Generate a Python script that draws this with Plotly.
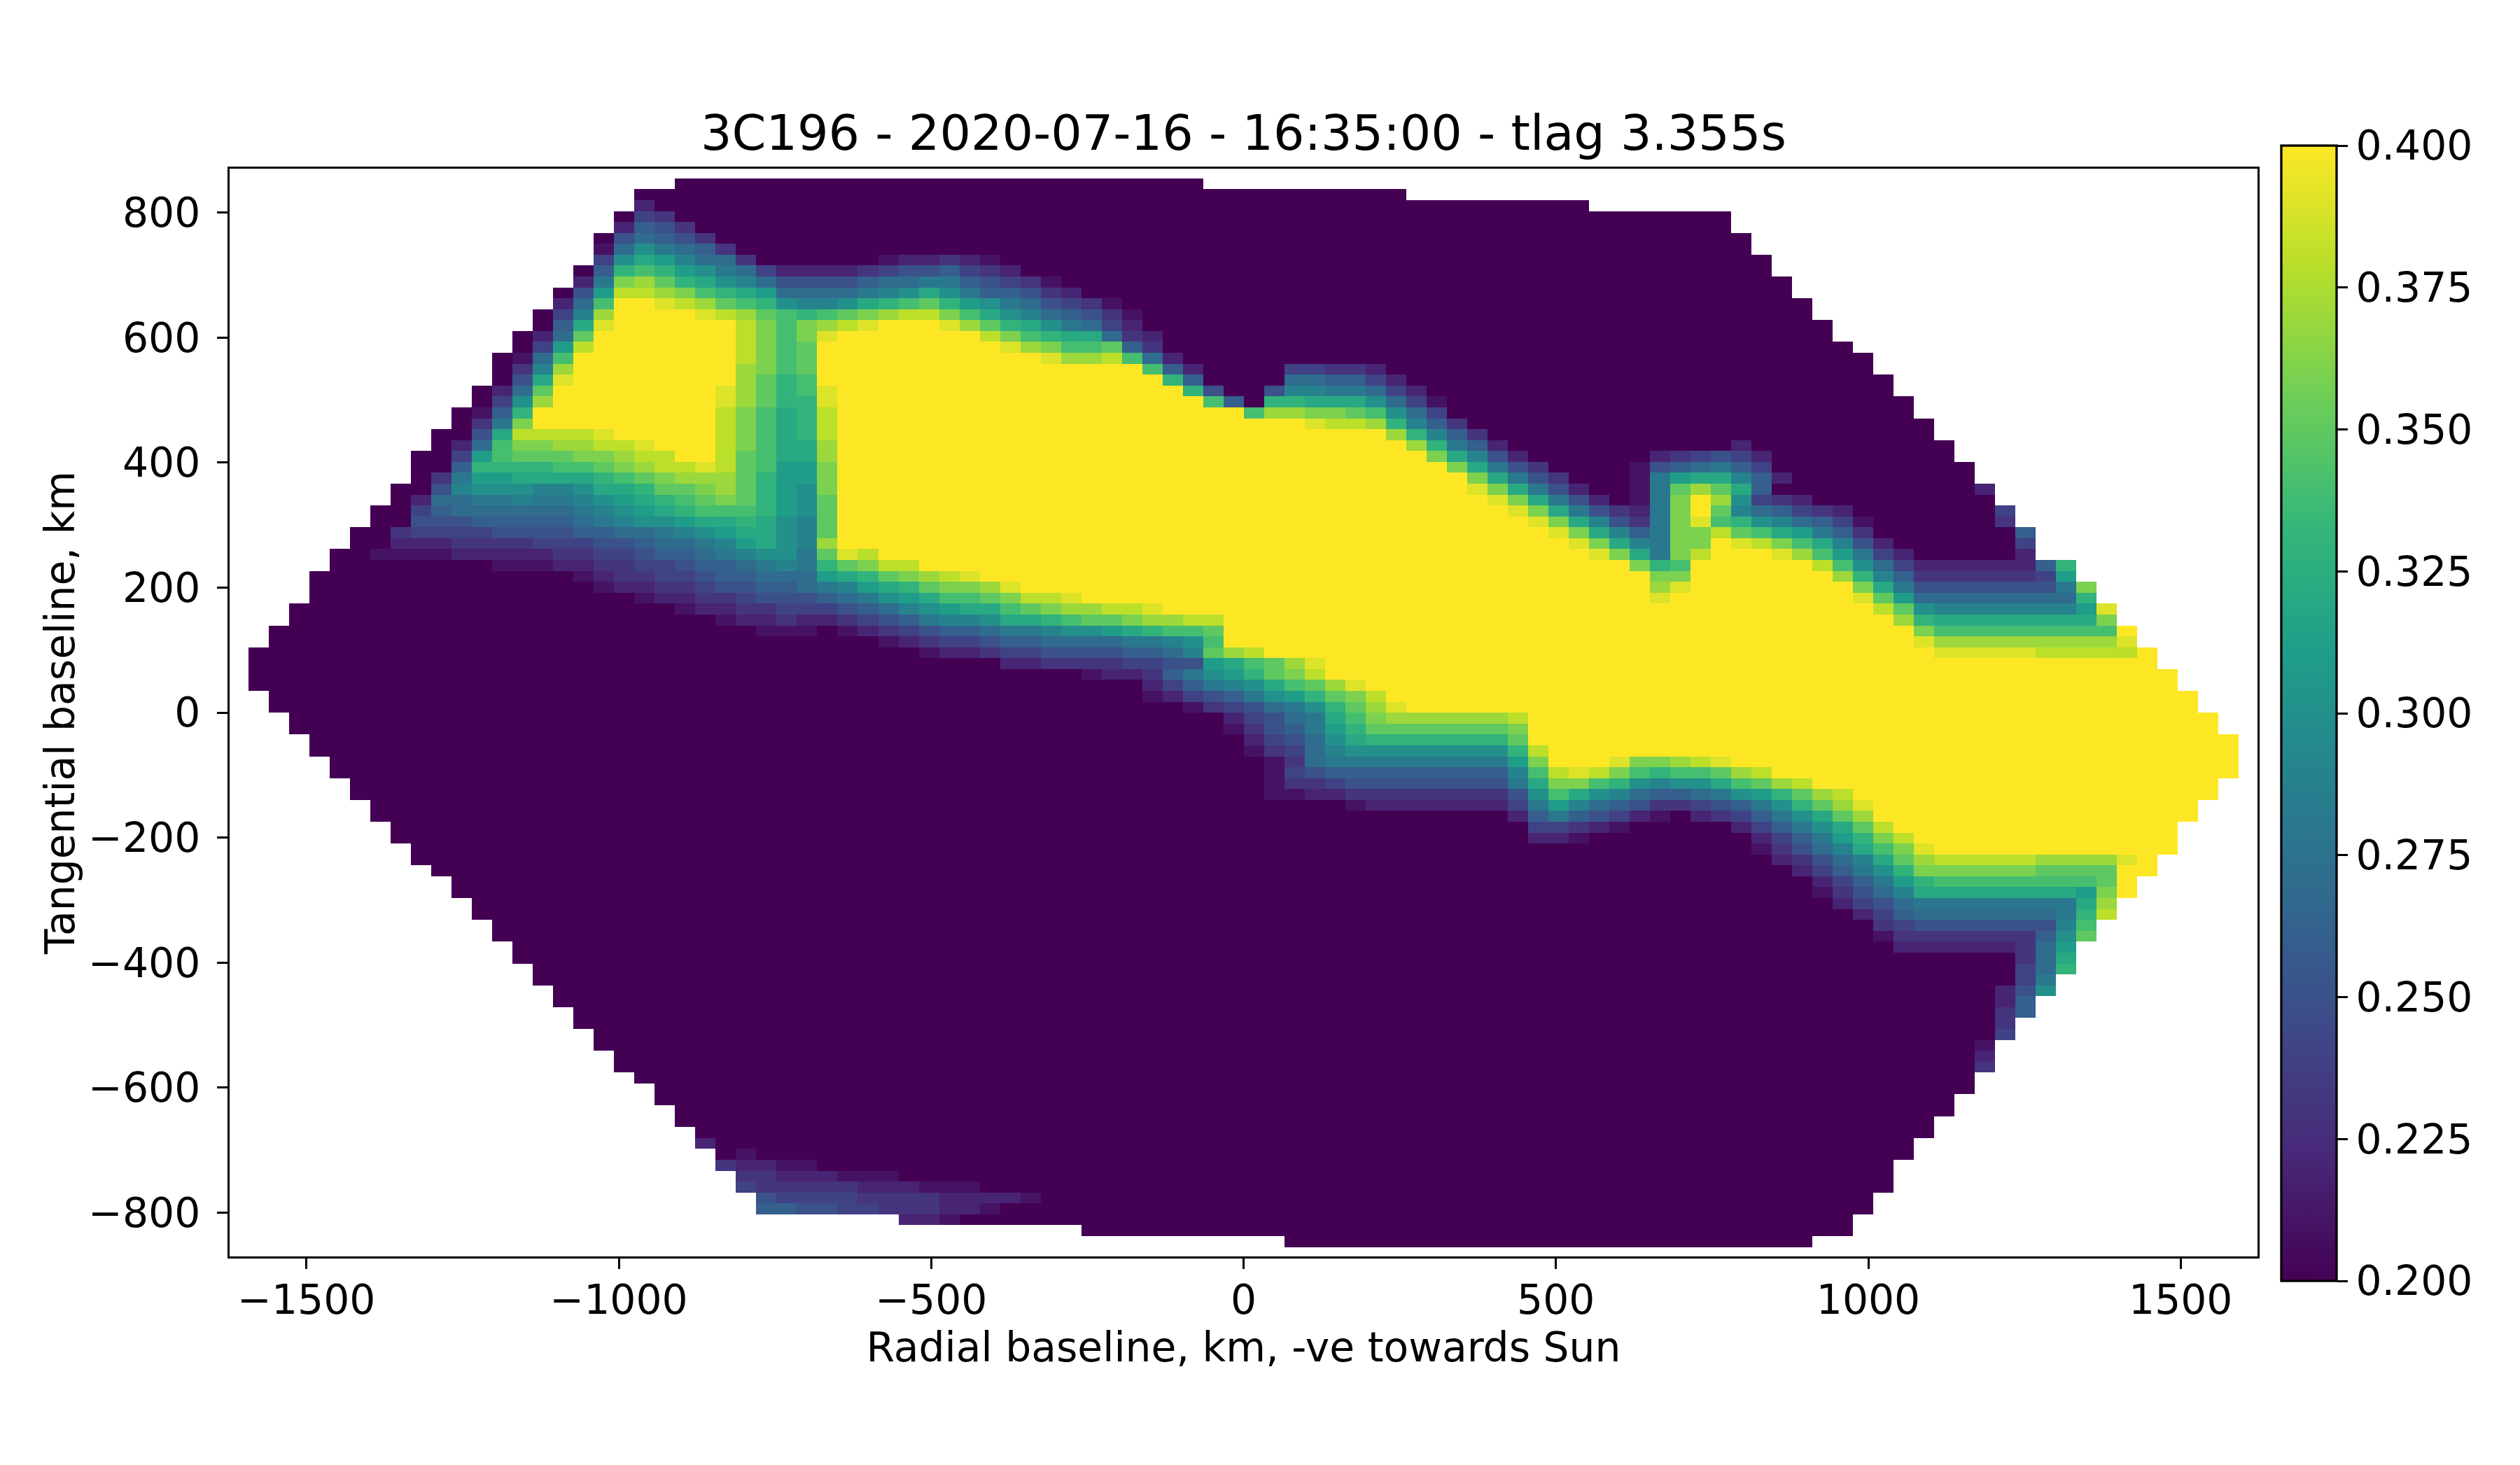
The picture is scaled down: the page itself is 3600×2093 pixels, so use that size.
import numpy as np
import plotly.graph_objects as go

TITLE = "3C196 - 2020-07-16 - 16:35:00 - tlag 3.355s"
X_LABEL = "Radial baseline, km, -ve towards Sun"
Y_LABEL = "Tangential baseline, km"
X_TICKS = [-1500, -1000, -500, 0, 500, 1000, 1500]
Y_TICKS = [-800, -600, -400, -200, 0, 200, 400, 600, 800]
CB_TICKS = [0.2, 0.225, 0.25, 0.275, 0.3, 0.325, 0.35, 0.375, 0.4]

N = 100
X_EDGE = 1625.0
Y_EDGE = 872.0
X_VIEW = 1623.3
Y_VIEW = 870.3

# first and last filled column of data rows 1..98 (row 1 is the top)
HULL_FIRST = [22, 20, 20, 19, 19, 18, 18, 18, 17, 17, 16, 16, 15, 15, 14, 14, 13, 13, 13, 12,
              12, 11, 11, 10, 10, 9, 9, 9, 8, 8, 7, 7, 6, 6, 5, 5, 4, 4, 4, 3,
              3, 2, 2, 1, 1, 1, 1, 2, 2, 3, 3, 4, 4, 5, 5, 6, 6, 7, 7, 8,
              8, 9, 9, 10, 11, 11, 12, 12, 13, 13, 14, 14, 15, 15, 16, 16, 17, 17, 18, 18,
              19, 19, 20, 21, 21, 22, 22, 23, 23, 24, 24, 25, 25, 26, 26, 33, 42, 52]
HULL_LAST = [47, 57, 66, 73, 73, 74, 74, 75, 75, 76, 76, 77, 77, 78, 78, 79, 80, 80, 81, 81,
             82, 82, 83, 83, 84, 84, 85, 85, 86, 86, 87, 87, 88, 88, 88, 90, 90, 91, 91, 92,
             92, 93, 93, 94, 94, 95, 95, 96, 96, 97, 97, 98, 98, 98, 98, 97, 97, 96, 96, 95,
             95, 95, 94, 94, 93, 93, 92, 92, 91, 91, 90, 90, 90, 89, 89, 88, 88, 87, 87, 86,
             86, 86, 85, 85, 84, 84, 83, 83, 82, 82, 81, 81, 81, 80, 80, 79, 79, 77]

# level letters: a = 0.20, b = 0.21 ... u = 0.40
LEVELS = "abcdefghijklmnopqrstu"

# read row by row; "col:cells" - the last cell's level carries on to the next group or row end
ROW_CELLS = [
    "", "", "20:ca", "19:aeda", "19:cgfda", "18:afhgfda", "18:bhkihgda",
    "18:ekmljhhda 32:bccdcba",
    "17:agnonlkiheccccdeffgedca",
    "17:ciqrpnmkjhffffghhiigfedba",
    "16:aflssrqonmlhhhhijkmkiggfdca",
    "16:chouutsrponkjjkmnopnlkihfedba",
    "15:aejruuuutsrponopqrssqomkjhgfdba",
    "15:agmtuuuuuusqoqrstuuutrpnmkiheca",
    "14:achp 18:u 25:sqoqtu 37:sqonmmhdca",
    "14:aels 18:u 25:sqopu 38:trqoopgda",
    "13:abhou 25:sqopu 40:trrsohca",
    "13:adjru 25:rqopu 45:ogca 52:eeddca",
    "13:afmtu 25:rpnou 46:nga 52:hhggeca",
    "12:achpu 24:trpnotu 47:nfa 51:fjjiiheca",
    "12:aekru 24:trpnntu 48:oga 51:nnmmmkheba",
    "11:abgnu 24:sqomnsu 50:orrqqpokhea",
    "11:adiqu 24:sqomnsu 53:tssrnjgda",
    "10:aafmsssstu 24:sqomnsu 57:rnjgda",
    "10:achoqqrrsstu 24:sqommru 58:rnigca 74:ca",
    "9:aaelopppqqrssu 24:spommru 59:qmjfca 70:cdefeca",
    "9:aagnnnnoopqrsst 24:spollqu 60:qmifda 69:bfghigea",
    "9:adillmmmmnopqrrrpnllqu 60:uqmifda 69:bilmmjgca",
    "8:aafjkkkjjkmmnppqrpnlkqu 61:tqmifca 69:biprpmga 86:c",
    "8:achhiijiijklmnopqpnlkpu 62:tqmifca 69:biqurkedca",
    "7:aaeghhhhhhijklmnooonlkpu 63:tqmifdciqupjhgedca 87:e",
    "7:aafffggggghijkklmmnmkjpu 64:tqmjfdiqtonkjhgeba 87:d",
    "6:aadeeeeffffgghhijklmmkjpu 65:tqmjgiqqspomligda 88:g",
    "6:aacccddddeeeffghhijlmkjru 66:tqmjiqqutsqomjfca 88:e",
    "5:aabbbbcccccddeefgghijkkiptsu 67:tqmiqsu 76:trolieca 88:c",
    "13:bbbccddeefgghijinpqssu 69:qnou 78:sokhec 89:gn",
    "17:bcddeefgghhhlmnpqrstu 70:qqu 79:rnjgd 89:el",
    "18:bccddeffgghijlmnpqqrtu 70:rtu 80:qmif 90:iq",
    "20:bccddefffghiklmoopqsstu 70:tu 80:tplh 91:n",
    "22:bccddeeefghjklmmopqrrsstu 81:spkj 91:lt",
    "23:abccdccdefgijjkmmnoppqrrssu 82:rnm 92:q",
    "26:bbbabcdefgghiijkklmnoopu 83:qo 93:u",
    "32:bcdeefgghhhhiijkou 83:tr 93:tu",
    "34:bccdeeffffgghjprsu 84:t 89:s 94:u",
    "38:ccddddeefflmoprtu",
    "42:bccdgiklnpqsu",
    "45:cegijkmoprtu",
    "45:bcefgiklnpqsu",
    "47:bdefhiknprtu",
    "49:cefhimoqrrrrrrsu",
    "49:bdfgilnpppppppqu",
    "50:cefhkmnnnnnnnpu",
    "50:bdehjkkkkkkkknsu",
    "51:bdhiiiiiiiiilqu 68:tqqrstu",
    "51:befg 63:jostsqonooprsu",
    "51:bddef 63:imqqonkjkkmoprsu",
    "51:bbccd 63:fkomkjhgghiklnprsu",
    "55:bc 63:eiljhgfddefgiknprtu",
    "63:cgigfecbacdegikmpru",
    "64:eedcba 74:cegikmpsu",
    "64:ccba 75:cegilnqsu",
    "75:bdfhjmoqtu",
    "76:cdfhjmprs 89:r 93:tu",
    "77:cegiknq 89:p 93:u",
    "78:cegilno 92:pu",
    "78:bdfhjm 91:lqu",
    "79:cefhi 91:mr",
    "80:cegh 90:ins",
    "81:def 90:jo",
    "81:bdd 89:gkp",
    "82:c 88:dhl",
    "88:dhm", "88:ehn", "88:ei", "87:cfk", "87:cg", "87:dg", "87:d", "87:e",
    "86:b", "86:c", "86:d",
    "", "", "", "", "", "",
    "23:ca", "25:ba", "24:dccbba", "25:ddcccbbba", "25:edddddcccbbba",
    "26:feeeeddddccccba", "26:ggffeedddccba", "33:ccba", "", "",
]

FONT = "DejaVu Sans"
TICK_SIZE = 58.33
TITLE_SIZE = 70
LINE = 3.33
TICK_LEN = 14.6
W, H = 3600, 2093
AX_L, AX_R, AX_T, AX_B = 327.7, 3225.3, 240.7, 1795.3
CB_L, CB_R, CB_T, CB_B = 3259, 3338, 208, 1830


def build_grid():
    grid = np.full((N, N), np.nan)
    for k, spec in enumerate(ROW_CELLS):
        row = k + 1
        first, last = HULL_FIRST[k], HULL_LAST[k]
        vals = np.zeros(N)
        for group in spec.split():
            col, cells = group.split(":")
            col = int(col)
            for offset, ch in enumerate(cells):
                vals[col + offset] = LEVELS.index(ch)
            vals[col + len(cells):] = LEVELS.index(cells[-1])
        grid[row, first:last + 1] = 0.2 + vals[first:last + 1] * 0.01
    return grid


z = build_grid()
xc = -X_EDGE + (np.arange(N) + 0.5) * (2 * X_EDGE / N)
yc = Y_EDGE - (np.arange(N) + 0.5) * (2 * Y_EDGE / N)

fig = go.Figure(go.Heatmap(
    x=xc.tolist(), y=yc.tolist(),
    z=[[None if np.isnan(v) else round(float(v), 3) for v in r] for r in z],
    colorscale="Viridis", zmin=0.2, zmax=0.4, hoverongaps=False,
    colorbar=dict(
        x=CB_L / W, xanchor="left", xref="container",
        y=(H - CB_T) / H, yanchor="top", yref="container",
        thickness=CB_R - CB_L, thicknessmode="pixels",
        len=CB_B - CB_T, lenmode="pixels", xpad=0, ypad=0,
        outlinecolor="black", outlinewidth=LINE,
        tickmode="array", tickvals=CB_TICKS,
        ticktext=[f"{v:.3f}" for v in CB_TICKS],
        ticks="outside", ticklen=TICK_LEN, tickwidth=LINE, tickcolor="black",
        tickfont=dict(family=FONT, size=TICK_SIZE, color="black"),
    ),
))

axis_common = dict(
    showgrid=False, zeroline=False, showline=True, mirror=True,
    linecolor="black", linewidth=LINE,
    ticks="outside", ticklen=TICK_LEN, tickwidth=LINE, tickcolor="black",
    tickfont=dict(family=FONT, size=TICK_SIZE, color="black"),
    automargin=False,
)
fig.update_layout(
    width=W, height=H, autosize=False,
    margin=dict(l=0, r=0, t=0, b=0, pad=0, autoexpand=False),
    paper_bgcolor="white", plot_bgcolor="white",
    font=dict(family=FONT, color="black"),
    title=dict(text=TITLE, font=dict(family=FONT, size=TITLE_SIZE, color="black"),
               x=(AX_L + AX_R) / 2 / W, xanchor="center", xref="container",
               y=(H - 214) / H, yanchor="bottom", yref="container", pad=dict(t=0, b=0)),
    xaxis=dict(axis_common, range=[-X_VIEW, X_VIEW], tickvals=X_TICKS,
               domain=[AX_L / W, AX_R / W], anchor="y",
               ticklabelstandoff=-6,
               title=dict(text=X_LABEL, font=dict(family=FONT, size=TICK_SIZE, color="black"), standoff=12)),
    yaxis=dict(axis_common, range=[-Y_VIEW, Y_VIEW], tickvals=Y_TICKS,
               domain=[(H - AX_B) / H, (H - AX_T) / H], anchor="x",
               ticklabelstandoff=12,
               title=dict(text=Y_LABEL, font=dict(family=FONT, size=TICK_SIZE, color="black"), standoff=1)),
)

fig.write_html("out.html", config={"displayModeBar": False},
               post_script="document.body.style.margin='0';")
